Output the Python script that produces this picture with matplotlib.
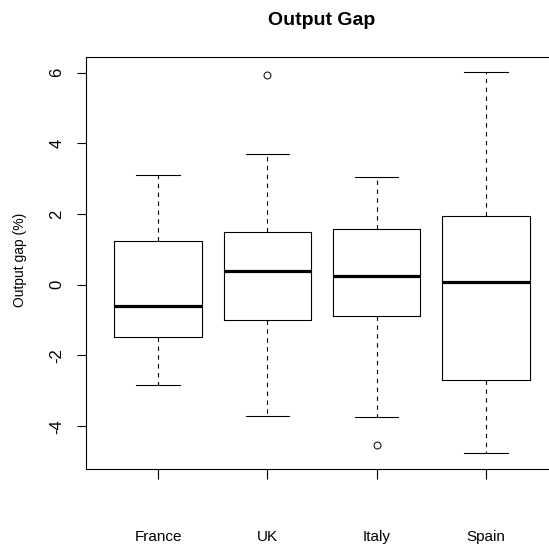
import matplotlib
matplotlib.use('Agg')
import matplotlib.pyplot as plt

plt.rcParams['font.family'] = ['Liberation Sans', 'DejaVu Sans']

# box statistics (output gap, %)
countries = ['France', 'UK', 'Italy', 'Spain']
whis_hi = [3.11, 3.70, 3.06, 6.01]
q3 = [1.23, 1.50, 1.57, 1.95]
median = [-0.59, 0.38, 0.26, 0.09]
q1 = [-1.47, -0.99, -0.87, -2.70]
whis_lo = [-2.84, -3.70, -3.74, -4.75]
outliers = [[], [5.93], [-4.54], []]
yticks = [-4, -2, 0, 2, 4, 6]

stats = []
for i, name in enumerate(countries):
    stats.append({'label': name, 'whislo': whis_lo[i], 'q1': q1[i], 'med': median[i],
                  'q3': q3[i], 'whishi': whis_hi[i], 'fliers': outliers[i]})

fig = plt.figure(figsize=(5.49, 5.5), dpi=100)
# the right edge of the plot region falls outside the image, as in the original
ax = fig.add_axes([86 / 549, 1 - 469.3 / 550, 472 / 549, 412.6 / 550])

line = dict(color='black', linewidth=0.8)
ax.bxp(stats, positions=[1, 2, 3, 4], widths=0.8, capwidths=0.4,
       boxprops=line,
       whiskerprops=dict(color='black', linewidth=0.8, linestyle=(0, (4, 4))),
       capprops=line,
       medianprops=dict(color='black', linewidth=2.3, solid_capstyle='butt'),
       flierprops=dict(marker='o', markersize=5, markerfacecolor='none',
                       markeredgecolor='black', markeredgewidth=0.7))

ax.set_xlim(0.34, 4.66)
ax.set_ylim(-5.22, 6.45)
ax.set_yticks(yticks)
ax.set_yticklabels([str(v) for v in yticks], rotation=90, va='center', fontsize=12)
ax.set_xticks([1, 2, 3, 4])
ax.set_xticklabels(countries, fontsize=11)
ax.tick_params(axis='y', direction='out', length=6.5, width=0.8, pad=9)
ax.tick_params(axis='x', direction='out', length=7, width=0.8, pad=37)
for s in ax.spines.values():
    s.set_linewidth(0.8)

fig.text(20 / 549, 1 - 260 / 550, 'Output gap (%)', rotation=90,
         ha='center', va='center', fontsize=10)
fig.text(322 / 549, 1 - 25 / 550, 'Output Gap', ha='center', va='baseline',
         fontsize=14, fontweight='bold')

fig.savefig('out.png', dpi=100)
